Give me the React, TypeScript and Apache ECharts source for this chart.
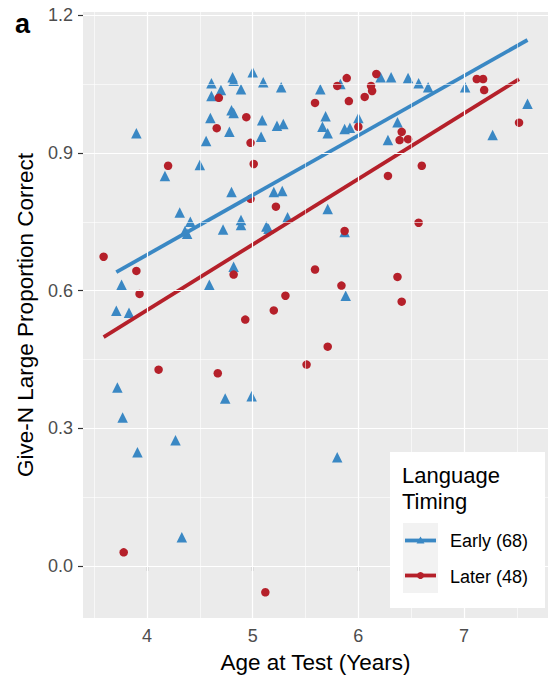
import React, { useEffect, useRef } from 'react';
import * as echarts from 'echarts';

// ---- data ----
const xTicks = [4, 5, 6, 7];
const xMinor = [3.5, 4.5, 5.5, 6.5, 7.5];
const yTicks = [0, 0.3, 0.6, 0.9, 1.2];
const yMinor = [0.15, 0.45, 0.75, 1.05];

const earlyPoints: [number, number][] = [
  [3.90, 0.943], [4.17, 0.850], [4.50, 0.874], [4.56, 0.926], [4.60, 0.976], [4.78, 0.946],
  [4.61, 1.052], [4.61, 1.024], [4.70, 1.037], [4.81, 1.065], [4.82, 1.057], [4.80, 0.993],
  [4.82, 0.987], [5.00, 1.076], [5.10, 1.054], [5.27, 1.043], [4.89, 1.039], [5.09, 0.971],
  [5.23, 0.959], [5.29, 0.963], [5.08, 0.935], [4.80, 0.815], [5.20, 0.815], [5.28, 0.817],
  [4.89, 0.754], [4.89, 0.743], [5.33, 0.760], [5.13, 0.740], [5.15, 0.735], [4.31, 0.770],
  [4.41, 0.750], [4.38, 0.724], [4.36, 0.730], [4.72, 0.733], [4.82, 0.652], [3.76, 0.613],
  [4.59, 0.613], [3.71, 0.556], [3.83, 0.552], [3.72, 0.389], [3.77, 0.324], [3.91, 0.248],
  [4.27, 0.274], [4.74, 0.365], [4.99, 0.370], [4.33, 0.063], [5.80, 0.237], [5.88, 0.589],
  [5.87, 0.728], [5.71, 0.778], [5.64, 1.039], [5.83, 1.050], [5.69, 0.980], [5.66, 0.957],
  [5.71, 0.943], [5.87, 0.952], [5.92, 0.955], [6.00, 0.976], [6.37, 0.967], [6.28, 0.928],
  [6.21, 1.065], [6.31, 1.065], [6.47, 1.063], [6.57, 1.052], [6.66, 1.043], [7.01, 1.043],
  [7.27, 0.939], [7.60, 1.007],
];

const laterPoints: [number, number][] = [
  [3.59, 0.674], [3.90, 0.643], [3.93, 0.593], [3.78, 0.030], [4.11, 0.428], [4.20, 0.872],
  [4.67, 0.420], [4.66, 0.954], [4.68, 1.020], [4.94, 0.978], [4.98, 0.922], [5.01, 0.876],
  [4.98, 0.800], [4.82, 0.635], [4.93, 0.537], [5.12, -0.057], [5.22, 0.783], [5.20, 0.557],
  [5.31, 0.589], [5.51, 0.439], [5.59, 0.646], [5.71, 0.478], [5.84, 0.611], [5.87, 0.730],
  [5.59, 1.009], [5.80, 1.046], [5.89, 1.063], [5.91, 1.013], [6.00, 0.957], [6.06, 1.022],
  [6.12, 1.046], [6.13, 1.035], [6.17, 1.072], [6.28, 0.850], [6.37, 0.630], [6.41, 0.576],
  [6.41, 0.946], [6.39, 0.928], [6.47, 0.930], [6.57, 0.748], [6.60, 0.872], [7.12, 1.061],
  [7.18, 1.061], [7.19, 1.037], [7.52, 0.966],
];

// linear fits (slope, intercept)
const earlyFit = [0.130, 0.158];
const laterFit = [0.143, -0.0145];

const legendTitle = ['Language', 'Timing'];
const legendLabels = ['Early (68)', 'Later (48)'];

const BLUE = '#3A88C4';
const RED = '#B5202A';
const FONT = 'Liberation Sans, Arial, Helvetica, sans-serif';

function fitLine(points: [number, number][], fit: number[]) {
  const xs = points.map((p) => p[0]);
  const lo = Math.min(...xs);
  const hi = Math.max(...xs);
  return [
    [lo, fit[1] + fit[0] * lo],
    [hi, fit[1] + fit[0] * hi],
  ];
}

export default function App() {
  const ref = useRef<HTMLDivElement>(null);

  useEffect(() => {
    document.body.style.margin = '0';
    if (!ref.current) return;
    const chart = echarts.init(ref.current, undefined, { renderer: 'svg' });

    const gridLines = [
      ...xTicks.map((v) => ({ xAxis: v, lineStyle: { width: 1.2 } })),
      ...xMinor.map((v) => ({ xAxis: v, lineStyle: { width: 0.6 } })),
      ...yTicks.map((v) => ({ yAxis: v, lineStyle: { width: 1.2 } })),
      ...yMinor.map((v) => ({ yAxis: v, lineStyle: { width: 0.6 } })),
    ];

    const Z = 100;
    const legendEls: any[] = [
      { type: 'rect', shape: { x: 390, y: 452, width: 155, height: 156 }, style: { fill: '#FFFFFF' } },
      {
        type: 'text',
        style: { text: legendTitle[0], x: 402, y: 475, fontSize: 22, fontFamily: FONT, fill: '#000', align: 'left', verticalAlign: 'middle' },
      },
      {
        type: 'text',
        style: { text: legendTitle[1], x: 402, y: 501, fontSize: 22, fontFamily: FONT, fill: '#000', align: 'left', verticalAlign: 'middle' },
      },
      { type: 'rect', shape: { x: 403, y: 523, width: 35, height: 35 }, style: { fill: '#F2F2F2' } },
      { type: 'rect', shape: { x: 403, y: 558, width: 35, height: 35 }, style: { fill: '#F2F2F2' } },
      { type: 'line', shape: { x1: 405, y1: 540.5, x2: 436, y2: 540.5 }, style: { stroke: BLUE, lineWidth: 3.8 } },
      { type: 'polygon', shape: { points: [[420.5, 536.5], [424.5, 543.5], [416.5, 543.5]] }, style: { fill: BLUE } },
      { type: 'line', shape: { x1: 405, y1: 575.5, x2: 436, y2: 575.5 }, style: { stroke: RED, lineWidth: 3.8 } },
      { type: 'circle', shape: { cx: 420.5, cy: 575.5, r: 3.5 }, style: { fill: RED } },
      {
        type: 'text',
        style: { text: legendLabels[0], x: 450, y: 541, fontSize: 18, fontFamily: FONT, fill: '#000', align: 'left', verticalAlign: 'middle' },
      },
      {
        type: 'text',
        style: { text: legendLabels[1], x: 450, y: 577, fontSize: 18, fontFamily: FONT, fill: '#000', align: 'left', verticalAlign: 'middle' },
      },
    ].map((el, i) => ({ ...el, z: Z + i, silent: true }));

    const option: any = {
      animation: false,
      grid: {
        left: 83,
        right: 3,
        top: 12,
        bottom: 60,
        show: true,
        backgroundColor: '#EBEBEB',
        borderWidth: 0,
      },
      xAxis: {
        type: 'value',
        min: 3.395,
        max: 7.794,
        axisLine: { show: false },
        axisTick: {
          show: true,
          length: 5,
          customValues: xTicks,
          lineStyle: { color: '#333333', width: 1.2 },
        },
        axisLabel: {
          customValues: xTicks,
          color: '#4D4D4D',
          fontSize: 18,
          fontFamily: FONT,
          margin: 9,
          formatter: (v: number) => String(v),
        },
        splitLine: { show: false },
        name: 'Age at Test (Years)',
        nameLocation: 'middle',
        nameGap: 33,
        nameTextStyle: { color: '#000', fontSize: 22.5, fontFamily: FONT },
      },
      yAxis: {
        type: 'value',
        min: -0.113,
        max: 1.207,
        axisLine: { show: false },
        axisTick: {
          show: true,
          length: 5,
          customValues: yTicks,
          lineStyle: { color: '#333333', width: 1.2 },
        },
        axisLabel: {
          customValues: yTicks,
          color: '#4D4D4D',
          fontSize: 18,
          fontFamily: FONT,
          margin: 10,
          formatter: (v: number) => v.toFixed(1),
        },
        splitLine: { show: false },
        name: 'Give-N Large Proportion Correct',
        nameLocation: 'middle',
        nameGap: 43,
        nameTextStyle: { color: '#000', fontSize: 22.5, fontFamily: FONT },
      },
      series: [
        {
          type: 'scatter',
          data: [],
          z: 1,
          silent: true,
          markLine: {
            silent: true,
            symbol: 'none',
            label: { show: false },
            lineStyle: { color: '#FFFFFF', type: 'solid' },
            emphasis: { disabled: true },
            data: gridLines,
          },
        },
        {
          type: 'scatter',
          name: 'Early',
          data: earlyPoints,
          symbol: 'triangle',
          symbolSize: 10.5,
          itemStyle: { color: BLUE, opacity: 1 },
          z: 3,
        },
        {
          type: 'scatter',
          name: 'Later',
          data: laterPoints,
          symbol: 'circle',
          symbolSize: 8.5,
          itemStyle: { color: RED, opacity: 1 },
          z: 3,
        },
        {
          type: 'line',
          data: fitLine(earlyPoints, earlyFit),
          showSymbol: false,
          symbol: 'none',
          lineStyle: { color: BLUE, width: 3.8, cap: 'butt' },
          z: 4,
        },
        {
          type: 'line',
          data: fitLine(laterPoints, laterFit),
          showSymbol: false,
          symbol: 'none',
          lineStyle: { color: RED, width: 3.8, cap: 'butt' },
          z: 4,
        },
      ],
      graphic: {
        elements: [
          {
            type: 'text',
            left: 15,
            top: 10,
            z: Z,
            style: { text: 'a', fontSize: 27, fontWeight: 'bold', fontFamily: FONT, fill: '#000' },
          },
          ...legendEls,
        ],
      },
    };

    chart.setOption(option);
    return () => chart.dispose();
  }, []);

  return <div ref={ref} style={{ width: 551, height: 679 }} />;
}
